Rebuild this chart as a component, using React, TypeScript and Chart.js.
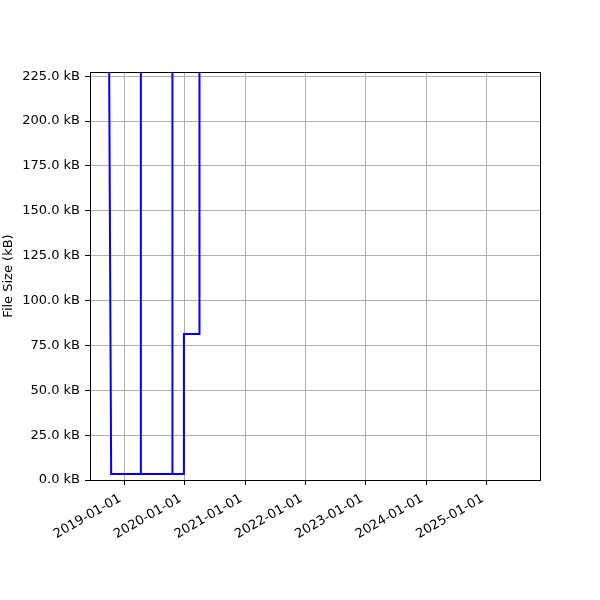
import React, { useEffect, useRef } from "react";
import { Chart, registerables } from "chart.js";

Chart.register(...registerables);

// Data (file size over time, kB)
const dates = [
  "2018-09-20",
  "2018-10-14",
  "2019-04-10",
  "2019-04-11",
  "2019-04-12",
  "2019-10-18",
  "2019-10-19",
  "2019-10-20",
  "2019-12-27",
  "2019-12-28",
  "2020-03-30",
  "2020-03-31",
];
const sizesKB = [450, 3.3, 3.3, 1000, 3.3, 3.3, 1000, 3.3, 3.3, 81.4, 81.4, 1000];

const xTickDates = [
  "2019-01-01",
  "2020-01-01",
  "2021-01-01",
  "2022-01-01",
  "2023-01-01",
  "2024-01-01",
  "2025-01-01",
];
const yTicks = [0, 25, 50, 75, 100, 125, 150, 175, 200, 225];

const xMinDate = "2018-06-08";
const xMaxDate = "2025-11-19";
const yMin = 0;
const yMax = 227.3;

const FONT = "'DejaVu Sans', sans-serif";

const framePlugin = {
  id: "frame",
  afterDraw(chart: any) {
    const { ctx, chartArea } = chart;
    ctx.save();
    ctx.strokeStyle = "#000";
    ctx.lineWidth = 1;
    ctx.strokeRect(
      Math.round(chartArea.left) + 0.5,
      Math.round(chartArea.top) + 0.5,
      Math.round(chartArea.right - chartArea.left),
      Math.round(chartArea.bottom - chartArea.top)
    );
    ctx.restore();
  },
};

export default function App() {
  const ref = useRef<HTMLCanvasElement | null>(null);

  useEffect(() => {
    if (!ref.current) return;
    const points = dates.map((d, i) => ({ x: Date.parse(d), y: sizesKB[i] }));
    const chart = new Chart(ref.current, {
      type: "line",
      data: {
        datasets: [
          {
            data: points,
            borderColor: "#0000ff",
            borderWidth: 2,
            pointRadius: 0,
            tension: 0,
            fill: false,
            clip: 0,
          },
        ],
      },
      options: {
        responsive: false,
        animation: false,
        devicePixelRatio: 1,
        layout: { padding: { top: 72, right: 60, left: 0, bottom: 0 } },
        plugins: {
          legend: { display: false },
          tooltip: { enabled: false },
        },
        scales: {
          x: {
            type: "linear",
            min: Date.parse(xMinDate),
            max: Date.parse(xMaxDate),
            afterBuildTicks: (scale: any) => {
              scale.ticks = xTickDates.map((d) => ({ value: Date.parse(d) }));
            },
            afterFit: (scale: any) => {
              scale.height = 120;
            },
            ticks: {
              autoSkip: false,
              minRotation: 30,
              maxRotation: 30,
              padding: 6,
              labelOffset: -4,
              color: "#000",
              font: { family: FONT, size: 13 },
              callback: (v: any) => new Date(Number(v)).toISOString().slice(0, 10),
            },
            grid: {
              color: "#b0b0b0",
              lineWidth: 1,
              tickColor: "#000",
              tickLength: 5,
            },
            border: { color: "#000", width: 1 },
          },
          y: {
            type: "linear",
            min: yMin,
            max: yMax,
            afterBuildTicks: (scale: any) => {
              scale.ticks = yTicks.map((v) => ({ value: v }));
            },
            afterFit: (scale: any) => {
              scale.width = 90;
            },
            ticks: {
              autoSkip: false,
              padding: 5,
              color: "#000",
              font: { family: FONT, size: 13 },
              callback: (v: any) => Number(v).toFixed(1) + " kB",
            },
            grid: {
              color: "#b0b0b0",
              lineWidth: 1,
              tickColor: "#000",
              tickLength: 5,
            },
            border: { color: "#000", width: 1 },
            title: {
              display: true,
              text: "File Size (kB)",
              color: "#000",
              font: { family: FONT, size: 13 },
              padding: { top: 1, bottom: 0 },
            },
          },
        },
      },
      plugins: [framePlugin],
    });
    return () => chart.destroy();
  }, []);

  return (
    <div style={{ position: "absolute", left: 0, top: 0, width: 600, height: 600, background: "#fff" }}>
      <canvas ref={ref} width={600} height={600} style={{ display: "block" }} />
    </div>
  );
}
